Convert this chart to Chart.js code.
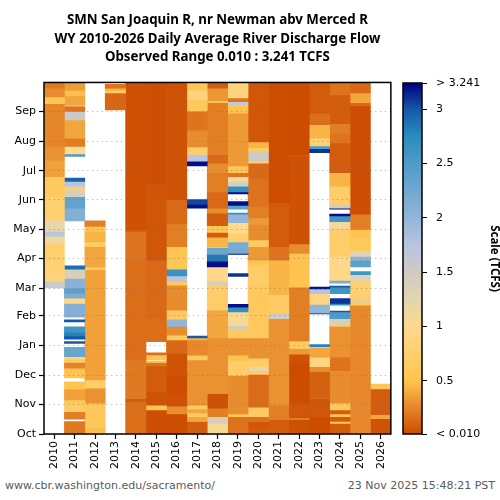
<!DOCTYPE html>
<html>
<head>
<meta charset="utf-8">
<script src="https://cdn.jsdelivr.net/npm/chart.js@4/dist/chart.umd.min.js"></script>
<style>
  html, body { margin: 0; padding: 0; background: #fff; }
  #wrap { position: relative; width: 500px; height: 500px; overflow: hidden; }
  canvas { position: absolute; top: 0; }
  #main { left: 0; }
  #bar { left: 396px; }
  .foot { position: absolute; top: 479px; font: 11px "DejaVu Sans"; color: #555c60; white-space: nowrap; }
</style>
</head>
<body>
<div id="wrap">
  <canvas id="main" width="396" height="478"></canvas>
  <canvas id="bar" width="104" height="478"></canvas>
  <div class="foot" style="left:5px">www.cbr.washington.edu/sacramento/</div>
  <div class="foot" style="right:5px">23 Nov 2025 15:48:21 PST</div>
</div>
<script>
const titleLines = ['SMN San Joaquin R, nr Newman abv Merced R', 'WY 2010-2026 Daily Average River Discharge Flow', 'Observed Range 0.010 : 3.241 TCFS'];
const years = ['2010','2011','2012','2013','2014','2015','2016','2017','2018','2019','2020','2021','2022','2023','2024','2025','2026'];
const monthNames = ['Oct','Nov','Dec','Jan','Feb','Mar','Apr','May','Jun','Jul','Aug','Sep'];
const monthStarts = [0,31,61,92,123,152,183,213,244,274,305,336];
const scaleTicks = [0.01,0.5,1,1.5,2,2.5,3,3.241];

// colour ramp of the scale bar
const rampValues = [0.01,0.25,0.5,1,1.25,1.5,1.75,2,2.5,2.75,3,3.241];
const rampColors = ['#cc4c02','#e5862a','#fec44f','#fed98e','#e2d5b0','#cfcbc4','#b8c4e0','#92b5d8','#4f9bc8','#2b8cbe','#1458a8','#000080'];

// each row: first day of water year, last day, flow in tcfs. missing days are just left out
const wy2010 = [[152,159,1.55],[159,170,0.85],[170,181,0.8],[181,199,0.75],[199,206,1.15],[206,211,1.75],[211,223,1.2],[223,247,0.75],[247,268,0.62],[268,285,0.36],[285,299,0.3],[299,344,0.25],[344,351,0.55],[351,360,0.28],[360,366,0.2]];
const wy2011 = [[0,13,0.2],[15.4,23.3,0.22],[23.3,31.3,0.7],[31.3,35.5,0.6],[35.5,46.6,0.36],[46.6,54.2,0.5],[58.4,68.5,0.5],[68.5,74.4,0.24],[74.4,78.2,0.6],[78.2,80.6,0.9],[80.6,90.3,2.3],[94.2,96.2,3.0],[98.7,102,3.0],[102,106,2.8],[106,111.5,2.6],[116.7,118.8,3.0],[121.6,136,2.1],[136,141.4,0.95],[141.4,146.5,2.15],[146.5,151.8,2.4],[151.8,162,2.05],[162,171.5,1.4],[171.5,175,2.9],[221.9,235,2.1],[235,247,2.35],[247,254,1.4],[254,257.7,0.8],[257.7,263,1.75],[263,266.4,2.95],[289,291.7,2.5],[291.7,299.4,1.0],[299.4,308,0.22],[308,327,0.38],[327,335.8,1.55],[335.8,341,0.18],[342,352,0.38],[352,358,0.48],[358,366,0.34]];
const wy2012 = [[0,6,0.48],[6,32,0.58],[32,47.7,0.3],[47.7,56.3,0.7],[56.3,171,0.36],[171,174,0.65],[174,195,0.38],[195,200,0.7],[200,211,0.44],[211,216,0.55],[216,222,0.22]];
const wy2013 = [[337.5,355,0.12],[355,358,0.65],[358,360,0.42],[360,364,0.17]];
const wy2014 = [[0,34,0.15],[34,37,0.07],[37,77,0.2],[77,181,0.15],[181,211,0.18],[211,213,0.07],[213,366,0.03]];
const wy2015 = [[0,25,0.02],[25,30,0.52],[30,44,0.04],[44,71,0.07],[71,74.4,0.17],[74.4,75.8,0.5],[77.2,82.4,0.5],[82.4,84.4,0.15],[96,120,0.15],[120,181,0.13],[181,260,0.05],[260,366,0.02]];
const wy2016 = [[0,21,0.015],[21,29,0.28],[29,42,0.03],[42,61,0.015],[61,84,0.04],[84,98,0.13],[98,103,0.65],[103,112,0.28],[112,119.5,2.0],[119.5,129,0.65],[129,155,0.28],[155,158.7,0.65],[158.7,164.6,1.7],[164.6,171.5,2.65],[171.5,181,0.55],[181,195,0.52],[195,219,0.22],[219,244,0.13],[244,366,0.04]];
const wy2017 = [[0,13,0.08],[13,18,0.38],[18,22,0.65],[22,26,0.38],[26,30,0.65],[30,77,0.3],[77,82,0.6],[82,98,0.26],[98,100,0.44],[100,102,3.0],[235,239,3.2],[239,244,3.05],[279,284,3.2],[284,291,1.75],[291,299,0.7],[299,316,0.28],[316,336,0.18],[336,348,0.6],[348,358,0.85],[358,366,0.55]];
const wy2018 = [[0,11,1.05],[11,18,1.4],[18,27,0.22],[27,42,0.025],[42,100,0.3],[100,129,0.38],[129,155,0.7],[155,159,1.4],[159,174,0.95],[174,180,3.2],[180,187,2.85],[187,194,2.3],[194,195,0.55],[195,205,0.44],[205,210,0.08],[210,217,0.55],[217,230,0.08],[230,235,0.28],[235,252,0.13],[252,272,0.22],[272,282,0.28],[282,291,0.13],[291,345,0.22],[345,347,0.55],[347,360,0.32],[360,366,0.08]];
const wy2019 = [[0,18,0.17],[18,21,0.55],[21,61,0.28],[61,76,0.7],[76,82,0.5],[82,100,0.3],[100,110,0.65],[110,113,1.5],[113,127,1.05],[127,132,2.7],[132,135,3.2],[164,167,3.1],[187,188,3.2],[188,200,2.2],[200,209,0.75],[209,220,1.0],[220,229,2.0],[229,230,2.7],[234,238,2.4],[238,242,3.2],[250,252,3.2],[252,258,2.7],[258,263,1.4],[263,268,1.1],[268,272,0.17],[272,279,0.55],[279,334,0.33],[334,342,0.5],[342,346,1.6],[346,350,0.17],[350,366,0.85]];
const wy2020 = [[0,1.5,0.55],[1.5,6,0.07],[6,13,0.05],[13,18,0.17],[18,28,0.65],[28,62,0.14],[62,66,0.7],[66,70,1.2],[70,79,0.7],[79,100,0.3],[100,155,0.6],[155,176,0.7],[176,181,0.55],[181,195,0.33],[195,202,0.65],[202,218,0.28],[218,225,0.33],[225,237,0.22],[237,265,0.17],[265,282,0.13],[282,284,0.75],[284,295,1.5],[295,298,0.65],[298,304,0.44],[304,366,0.05]];
const wy2021 = [[0,15,0.08],[15,30,0.22],[30,120,0.3],[120,126,1.5],[126,145,0.65],[145,181,0.44],[181,195,0.18],[195,240,0.07],[240,366,0.015]];
const wy2022 = [[0,15,0.025],[15,17,0.22],[17,32,0.05],[32,74,0.01],[74,83,0.04],[83,89,0.33],[89,97,0.65],[97,153,0.22],[153,188,0.5],[188,198,0.28],[198,290,0.03],[290,366,0.01]];
const wy2023 = [[0,18,0.01],[18,37,0.05],[37,65,0.1],[65,70,0.28],[70,80,0.9],[80,90,0.38],[90,91,0.65],[91,93,2.8],[125,126,3.0],[126,135,2.0],[135,146,0.9],[146,151,1.75],[151,153,3.2],[293,297,3.1],[297,300,2.5],[300,308,0.8],[308,322,0.44],[322,334,0.15],[334,366,0.07]];
const wy2024 = [[0,11,0.07],[11,13,0.6],[13,18,0.07],[18,21,0.55],[21,25,0.08],[25,32,0.6],[32,66,0.28],[66,80,0.18],[80,112,0.3],[112,114,0.65],[114,120,1.4],[120,127,2.5],[127,128,3.0],[134,136,2.7],[136,141,3.1],[146,153,2.6],[153,154,3.0],[157,160,2.2],[160,181,0.95],[181,185,1.0],[185,214,0.7],[214,221,1.1],[221,227,2.6],[227,229,3.2],[234,235,3.2],[235,239,1.5],[239,258,0.7],[258,272,0.44],[272,303,0.08],[303,313,0.18],[313,323,0.22],[323,353,0.08],[353,366,0.17]];
const wy2025 = [[0,134,0.26],[134,138,0.65],[138,141,1.4],[141,159,0.75],[159,166,1.3],[166,169,2.6],[174,181,2.4],[181,185,2.0],[185,191,1.3],[191,205,0.6],[205,213,0.5],[213,229,0.22],[229,342,0.02],[342,345,0.13],[345,355,0.38],[355,366,0.13]];
const wy2026 = [[0,16,0.04],[16,20,0.38],[20,47,0.08],[47,52,0.55]];
const allYears = [wy2010,wy2011,wy2012,wy2013,wy2014,wy2015,wy2016,wy2017,wy2018,wy2019,wy2020,wy2021,wy2022,wy2023,wy2024,wy2025,wy2026];

function hexToRgb(h) {
  return [1,3,5].map(i => parseInt(h.slice(i, i + 2), 16));
}

function colorFor(v) {
  let i = 0;
  while (i < rampValues.length - 2 && v > rampValues[i + 1]) i++;
  const t = Math.min(1, Math.max(0, (v - rampValues[i]) / (rampValues[i + 1] - rampValues[i])));
  const a = hexToRgb(rampColors[i]), b = hexToRgb(rampColors[i + 1]);
  return `rgb(${a.map((c, k) => Math.round(c + (b[k] - c) * t)).join(',')})`;
}

// black box round the plot area
const framePlugin = {
  id: 'frame',
  afterDraw(chart) {
    const { ctx, chartArea: a } = chart;
    ctx.save();
    ctx.strokeStyle = '#000';
    ctx.lineWidth = 1.5;
    ctx.strokeRect(a.left, a.top, a.right - a.left, a.bottom - a.top);
    ctx.restore();
  }
};

const tickFont = { family: 'DejaVu Sans', size: 11 };

new Chart(document.getElementById('main'), {
  type: 'bar',
  data: {
    labels: years,
    datasets: allYears.map((segs, i) => ({
      data: segs.map(s => ({ x: years[i], y: [s[0], s[1]] })),
      backgroundColor: segs.map(s => colorFor(s[2])),
      borderWidth: 0,
      grouped: false,
      barPercentage: 1,
      categoryPercentage: 1
    }))
  },
  options: {
    responsive: false,
    animation: false,
    layout: { padding: { top: 11, right: 1 } },
    plugins: {
      legend: { display: false },
      tooltip: { enabled: false },
      title: {
        display: true,
        text: titleLines,
        fullSize: false,
        color: '#000',
        font: { family: 'Noto Sans', size: 13.3, weight: 'bold', lineHeight: 1.39 },
        padding: { top: 0, bottom: 16 }
      }
    },
    scales: {
      x: {
        border: { display: false },
        grid: { offset: false, drawOnChartArea: false, drawTicks: true, tickLength: 5, tickColor: '#000', tickWidth: 1.2 },
        ticks: { color: '#000', font: tickFont, minRotation: 90, maxRotation: 90, autoSkip: false, padding: 2 },
        afterFit(scale) { scale.height = 44; }
      },
      y: {
        min: 0,
        max: 366,
        border: { display: false, dash: [1.2, 3.6] },
        afterBuildTicks(scale) { scale.ticks = monthStarts.map(v => ({ value: v })); },
        afterFit(scale) { scale.width = 44; },
        grid: { z: 1, color: 'rgba(110,110,110,0.5)', tickBorderDash: [], tickColor: '#000', tickLength: 5, tickWidth: 1.2 },
        ticks: { color: '#000', font: tickFont, padding: 3, callback: v => monthNames[monthStarts.indexOf(v)] }
      }
    }
  },
  plugins: [framePlugin]
});

new Chart(document.getElementById('bar'), {
  type: 'bar',
  data: {
    labels: ['scale'],
    datasets: [{
      data: [[scaleTicks[0], scaleTicks[scaleTicks.length - 1]]],
      borderWidth: 0,
      barPercentage: 1,
      categoryPercentage: 1,
      backgroundColor(c) {
        const { ctx, chartArea, scales } = c.chart;
        if (!chartArea) return '#fff';
        const y0 = scales.y.getPixelForValue(scaleTicks[0]);
        const y1 = scales.y.getPixelForValue(scaleTicks[scaleTicks.length - 1]);
        const g = ctx.createLinearGradient(0, y0, 0, y1);
        rampValues.forEach((v, i) => g.addColorStop((v - rampValues[0]) / (rampValues[rampValues.length - 1] - rampValues[0]), rampColors[i]));
        return g;
      }
    }]
  },
  options: {
    responsive: false,
    animation: false,
    layout: { padding: { top: 83, bottom: 44, left: 7 } },
    plugins: { legend: { display: false }, tooltip: { enabled: false } },
    scales: {
      x: { display: false },
      y: {
        position: 'right',
        min: scaleTicks[0],
        max: scaleTicks[scaleTicks.length - 1],
        border: { display: false },
        afterBuildTicks(scale) { scale.ticks = scaleTicks.map(v => ({ value: v })); },
        afterFit(scale) { scale.width = 78; },
        grid: { drawOnChartArea: false, tickColor: '#000', tickLength: 5, tickWidth: 1 },
        ticks: {
          color: '#000',
          font: tickFont,
          padding: 9,
          callback(v) {
            if (v === scaleTicks[0]) return '< 0.010';
            if (v === scaleTicks[scaleTicks.length - 1]) return '> 3.241';
            return String(v);
          }
        },
        title: { display: true, text: 'Scale (TCFS)', color: '#000', font: { family: 'Noto Sans', size: 11.5, weight: 'bold', lineHeight: 1 }, padding: 0 }
      }
    }
  },
  plugins: [framePlugin]
});
</script>
</body>
</html>
